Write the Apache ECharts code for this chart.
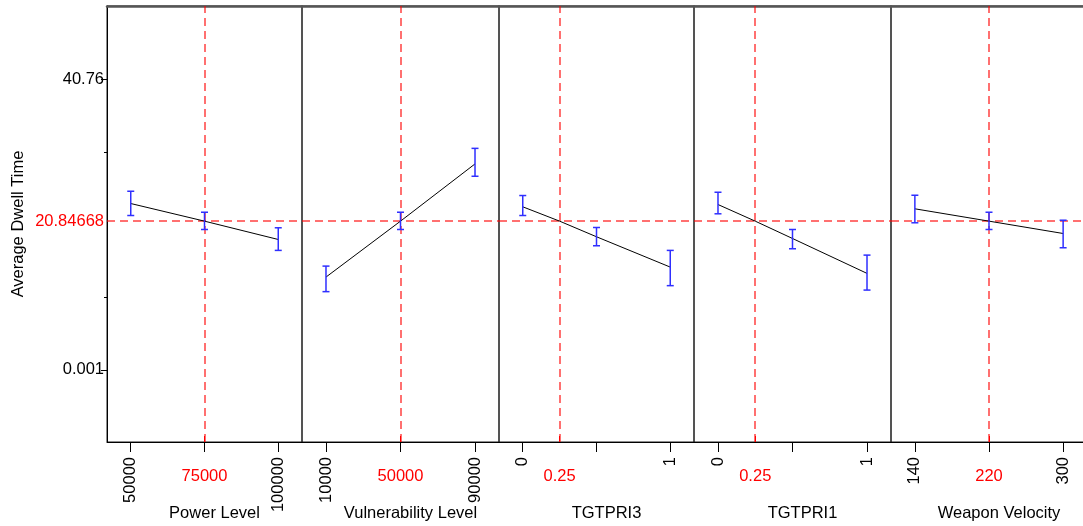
<!DOCTYPE html>
<html>
<head>
<meta charset="utf-8">
<script src="https://cdn.jsdelivr.net/npm/echarts@6/dist/echarts.min.js"></script>
<style>
html,body{margin:0;padding:0;background:#fff;}
#chart{width:1083px;height:526px;}
</style>
</head>
<body>
<div id="chart"></div>
<script>
// ---- data ----
const factorNames = ['Power Level', 'Vulnerability Level', 'TGTPRI3', 'TGTPRI1', 'Weapon Velocity'];
const levelLow = [50000, 10000, 0, 0, 140];
const levelMid = [75000, 50000, 0.5, 0.5, 220];
const levelHigh = [100000, 90000, 1, 1, 300];
const currentSetting = [75000, 50000, 0.25, 0.25, 220];
const currentLabels = ['75000', '50000', '0.25', '0.25', '220'];
const lowLabels = ['50000', '10000', '0', '0', '140'];
const highLabels = ['100000', '90000', '1', '1', '300'];
const predictedResponse = 20.84668;
const traceX = [
  [50000, 75000, 100000],
  [10000, 50000, 90000],
  [0, 0.25, 0.5, 1],
  [0, 0.25, 0.5, 1],
  [140, 220, 300]
];
const traceY = [
  [23.32, 20.85, 18.28],
  [13.01, 20.85, 28.87],
  [22.86, 20.85, 18.66, 14.41],
  [23.18, 20.85, 18.42, 13.53],
  [22.58, 20.85, 19.12]
];
const ciLow = [
  [21.64, 19.68, 16.75],
  [10.97, 19.68, 27.14],
  [21.64, 17.40, 11.81],
  [21.88, 16.98, 11.19],
  [20.62, 19.68, 17.12]
];
const ciHigh = [
  [25.04, 22.10, 19.92],
  [14.55, 22.10, 31.05],
  [24.44, 19.96, 16.75],
  [24.90, 19.68, 16.09],
  [24.48, 22.10, 20.98]
];
const yTickValues = [0.001, 20.84668, 40.76];
const yTickLabels = ['0.001', '20.84668', '40.76'];
const yMinorTicks = [10.19, 30.57];
const yMin = -10.1;
const yMax = 51.0;
const yAxisName = 'Average Dwell Time';

// ---- layout ----
const FONT = 'Liberation Sans, Arial, sans-serif';
const FS = 16.5;
const gridLeft = [107, 302, 499, 694, 891];
const gridWidth = [195, 197, 195, 197, 196];
const PAD = 0.161;
const RED = '#ff0000';
const BLUE = '#2f2fff';

const grids = [], xAxes = [], yAxes = [], series = [];

for (let i = 0; i < factorNames.length; i++) {
  grids.push({
    left: gridLeft[i], width: gridWidth[i], top: 6, height: 436,
    outerBoundsMode: 'none', containLabel: false,
    show: true, borderColor: '#1a1a1a', borderWidth: 1, backgroundColor: 'transparent'
  });
  const span = levelHigh[i] - levelLow[i];
  const xmin = levelLow[i] - span * PAD, xmax = levelHigh[i] + span * PAD;
  const lo = lowLabels[i], hi = highLabels[i];
  // main bottom axis
  xAxes.push({
    type: 'value', gridIndex: i, position: 'bottom', min: xmin, max: xmax,
    name: factorNames[i], nameLocation: 'middle', nameGap: 63, nameMoveOverlap: false,
    nameTextStyle: { fontFamily: FONT, fontSize: FS, color: '#000', padding: [0, 0, 0, 20] },
    axisLine: { show: true, onZero: false, lineStyle: { color: '#000', width: 1 } },
    axisTick: { show: true, inside: false, length: 10, customValues: [levelLow[i], levelMid[i], levelHigh[i]], lineStyle: { color: '#000' } },
    axisLabel: {
      show: true, rotate: 90, margin: 15, fontFamily: FONT, fontSize: FS, color: '#000',
      customValues: [levelLow[i], levelHigh[i]],
      formatter: (v) => (Math.abs(v - levelLow[i]) < 1e-9 ? lo : hi)
    },
    splitLine: { show: false }
  });
  // current setting axis (red)
  xAxes.push({
    type: 'value', gridIndex: i, position: 'bottom', min: xmin, max: xmax,
    axisLine: { show: false, onZero: false },
    axisTick: { show: true, inside: true, length: 6, customValues: [currentSetting[i]], lineStyle: { color: RED } },
    axisLabel: {
      show: true, margin: 26, fontFamily: FONT, fontSize: FS, color: RED,
      customValues: [currentSetting[i]],
      formatter: () => currentLabels[i]
    },
    splitLine: { show: false }
  });
  // top frame line
  xAxes.push({
    type: 'value', gridIndex: i, position: 'top', min: xmin, max: xmax,
    axisLine: { show: true, onZero: false, lineStyle: { color: '#555', width: 2.5 } },
    axisTick: { show: false }, axisLabel: { show: false }, splitLine: { show: false }
  });

  let yIdx;
  if (i === 0) {
    yIdx = yAxes.length;
    yAxes.push({
      type: 'value', gridIndex: 0, position: 'left', min: yMin, max: yMax,
      name: yAxisName, nameLocation: 'middle', nameGap: 80, nameMoveOverlap: false,
      nameTextStyle: { fontFamily: FONT, fontSize: FS, color: '#000' },
      axisLine: { show: true, onZero: false, lineStyle: { color: '#000' } },
      axisTick: { show: true, length: 6, customValues: [yTickValues[0], yTickValues[2]], lineStyle: { color: '#000' } },
      axisLabel: {
        show: true, margin: 3, fontFamily: FONT, fontSize: FS,
        customValues: yTickValues,
        formatter: (v) => { const k = yTickValues.findIndex(t => Math.abs(t - v) < 1e-6); return k >= 0 ? yTickLabels[k] : ''; },
        color: (v) => (Math.abs(v - predictedResponse) < 1e-6 ? RED : '#000')
      },
      splitLine: { show: false }
    });
    yAxes.push({
      type: 'value', gridIndex: 0, position: 'left', min: yMin, max: yMax,
      axisLine: { show: false, onZero: false },
      axisTick: { show: true, length: 3, customValues: yMinorTicks, lineStyle: { color: '#000' } },
      axisLabel: { show: false }, splitLine: { show: false }
    });
  } else {
    yIdx = yAxes.length;
    yAxes.push({
      type: 'value', gridIndex: i, min: yMin, max: yMax,
      axisLine: { show: false, onZero: false }, axisTick: { show: false }, axisLabel: { show: false }, splitLine: { show: false }
    });
  }

  const mainX = i * 3;
  series.push({
    type: 'line', xAxisIndex: mainX, yAxisIndex: yIdx,
    data: traceX[i].map((x, k) => [x, traceY[i][k]]),
    symbol: 'none', smooth: false, z: 5,
    lineStyle: { color: '#000', width: 1 },
    markLine: {
      silent: true, symbol: 'none', animation: false,
      label: { show: false },
      lineStyle: { color: RED, type: [8, 5], width: 1.5, opacity: 0.75 },
      data: [{ xAxis: currentSetting[i] }, { yAxis: predictedResponse }]
    }
  });
  const ciX = [levelLow[i], levelMid[i], levelHigh[i]];
  series.push({
    type: 'custom', xAxisIndex: mainX, yAxisIndex: yIdx, z: 6,
    data: ciX.map((x, k) => [x, ciLow[i][k], ciHigh[i][k]]),
    renderItem: (params, api) => {
      const p1 = api.coord([api.value(0), api.value(1)]);
      const p2 = api.coord([api.value(0), api.value(2)]);
      const w = 3.5;
      const st = { stroke: BLUE, lineWidth: 1.5 };
      return {
        type: 'group',
        children: [
          { type: 'line', shape: { x1: p1[0], y1: p1[1], x2: p2[0], y2: p2[1] }, style: st },
          { type: 'line', shape: { x1: p1[0] - w, y1: p1[1], x2: p1[0] + w, y2: p1[1] }, style: st },
          { type: 'line', shape: { x1: p2[0] - w, y1: p2[1], x2: p2[0] + w, y2: p2[1] }, style: st }
        ]
      };
    }
  });
}

const chart = echarts.init(document.getElementById('chart'), null, { renderer: 'canvas' });
chart.setOption({
  animation: false,
  backgroundColor: '#fff',
  textStyle: { fontFamily: FONT },
  grid: grids,
  xAxis: xAxes,
  yAxis: yAxes,
  series: series
});
</script>
</body>
</html>
